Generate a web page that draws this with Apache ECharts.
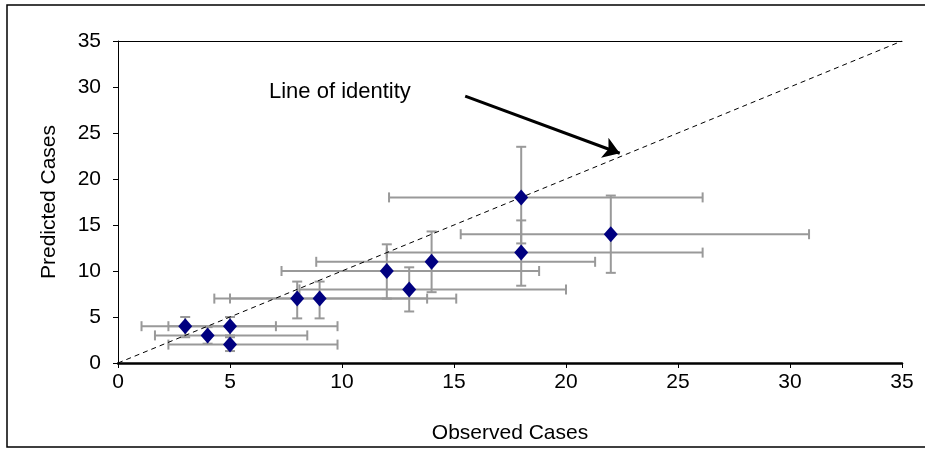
<!DOCTYPE html>
<html>
<head>
<meta charset="utf-8">
<script src="https://cdn.jsdelivr.net/npm/echarts@6/dist/echarts.min.js"></script>
<style>
  html, body { margin: 0; padding: 0; background: #fff; }
  #chart { width: 925px; height: 451px; }
</style>
</head>
<body>
<div id="chart"></div>
<script>
/* === Data === */
const observed  = [3, 4, 5, 5, 8, 9, 12, 13, 14, 18, 18, 22];
const predicted = [4, 3, 4, 2, 7, 7, 10, 8, 11, 12, 18, 14];
const obsLow    = [1.05, 1.65, 2.25, 2.25, 4.3, 5.0, 7.3, 8.1, 8.85, 12.0, 12.1, 15.3];
const obsHigh   = [7.05, 8.45, 9.8, 9.8, 13.8, 15.1, 18.8, 20.0, 21.3, 26.1, 26.1, 30.85];
const predLow   = [2.8, 2.1, 3.0, 1.3, 4.85, 4.85, 7.0, 5.6, 7.7, 8.4, 13.0, 9.8];
const predHigh  = [5.0, 3.9, 5.0, 2.8, 8.85, 8.85, 12.9, 10.4, 14.3, 15.5, 23.5, 18.2];
const identityLine = [[0, 0], [35, 35]];
const arrowCoords  = [[15.5, 29.0], [22.4, 22.8]];
const axisMax = 35;
const axisStep = 5;

const FONT = "'Liberation Sans', Arial, sans-serif";
const FS = 21;

function init() {
  const chart = echarts.init(document.getElementById('chart'));

  const points = observed.map((x, i) => [x, predicted[i]]);
  const bars = observed.map((x, i) => [x, predicted[i], obsLow[i], obsHigh[i], predLow[i], predHigh[i]]);

  const barStyle = { stroke: '#999999', lineWidth: 2 };
  const CAP = 5;

  // error bars: horizontal (observed CI) and vertical (predicted CI) with caps
  function renderErrorBar(params, api) {
    const c = api.coord([api.value(0), api.value(1)]);
    const xl = api.coord([api.value(2), api.value(1)]);
    const xh = api.coord([api.value(3), api.value(1)]);
    const yl = api.coord([api.value(0), api.value(4)]);
    const yh = api.coord([api.value(0), api.value(5)]);
    const line = (x1, y1, x2, y2) => ({
      type: 'line', shape: { x1, y1, x2, y2 }, style: barStyle
    });
    return {
      type: 'group',
      children: [
        line(xl[0], c[1], xh[0], c[1]),
        line(xl[0], c[1] - CAP, xl[0], c[1] + CAP),
        line(xh[0], c[1] - CAP, xh[0], c[1] + CAP),
        line(c[0], yl[1], c[0], yh[1]),
        line(c[0] - CAP, yl[1], c[0] + CAP, yl[1]),
        line(c[0] - CAP, yh[1], c[0] + CAP, yh[1])
      ]
    };
  }

  chart.setOption({
    animation: false,
    backgroundColor: '#fff',
    textStyle: { fontFamily: FONT },
    grid: { left: 118, right: 23, top: 41, bottom: 88 },
    xAxis: [{
      type: 'value',
      min: 0, max: axisMax, interval: axisStep,
      name: 'Observed Cases',
      nameLocation: 'middle',
      nameGap: 60,
      nameTextStyle: { color: '#000', fontSize: FS, fontFamily: FONT },
      axisLine: { lineStyle: { color: '#000', width: 2.5 } },
      axisTick: { show: true, length: 5, lineStyle: { color: '#000', width: 1 } },
      axisLabel: { color: '#000', fontSize: FS, fontFamily: FONT, margin: 9 },
      splitLine: { show: false }
    }, {
      type: 'value',
      position: 'top',
      min: 0, max: axisMax,
      axisLine: { show: true, lineStyle: { color: '#000', width: 1 } },
      axisTick: { show: false },
      axisLabel: { show: false },
      splitLine: { show: false }
    }],
    yAxis: {
      type: 'value',
      min: 0, max: axisMax, interval: axisStep,
      name: 'Predicted Cases',
      nameLocation: 'middle',
      nameGap: 58,
      nameTextStyle: { color: '#000', fontSize: FS, fontFamily: FONT },
      axisLine: { show: true, lineStyle: { color: '#000', width: 1 } },
      axisTick: { show: true, length: 5, lineStyle: { color: '#000', width: 1 } },
      axisLabel: { color: '#000', fontSize: FS, fontFamily: FONT, margin: 17 },
      splitLine: { show: false }
    },
    graphic: [
      {
        type: 'rect',
        shape: { x: 7, y: 5, width: 940, height: 442 },
        style: { fill: 'none', stroke: '#000', lineWidth: 1.5 },
        silent: true
      },
      {
        type: 'text',
        left: 269, top: 81,
        style: { text: 'Line of identity', fill: '#000', font: (FS + 1) + 'px ' + FONT }
      }
    ],
    series: [
      {
        name: 'errors',
        type: 'custom',
        renderItem: renderErrorBar,
        data: bars,
        z: 1
      },
      {
        name: 'identity',
        type: 'line',
        data: identityLine,
        showSymbol: false,
        symbol: 'none',
        lineStyle: { color: '#000', width: 1, type: [5, 4] },
        z: 2
      },
      {
        name: 'arrow',
        type: 'lines',
        coordinateSystem: 'cartesian2d',
        symbol: ['none', 'arrow'],
        symbolSize: 16,
        lineStyle: { color: '#000', width: 3, opacity: 1 },
        data: [{ coords: arrowCoords }],
        z: 4
      },
      {
        name: 'cases',
        type: 'scatter',
        data: points,
        symbol: 'diamond',
        symbolSize: [14, 16],
        itemStyle: { color: '#000080', opacity: 1 },
        z: 5
      }
    ]
  });
}

init();
</script>
</body>
</html>
